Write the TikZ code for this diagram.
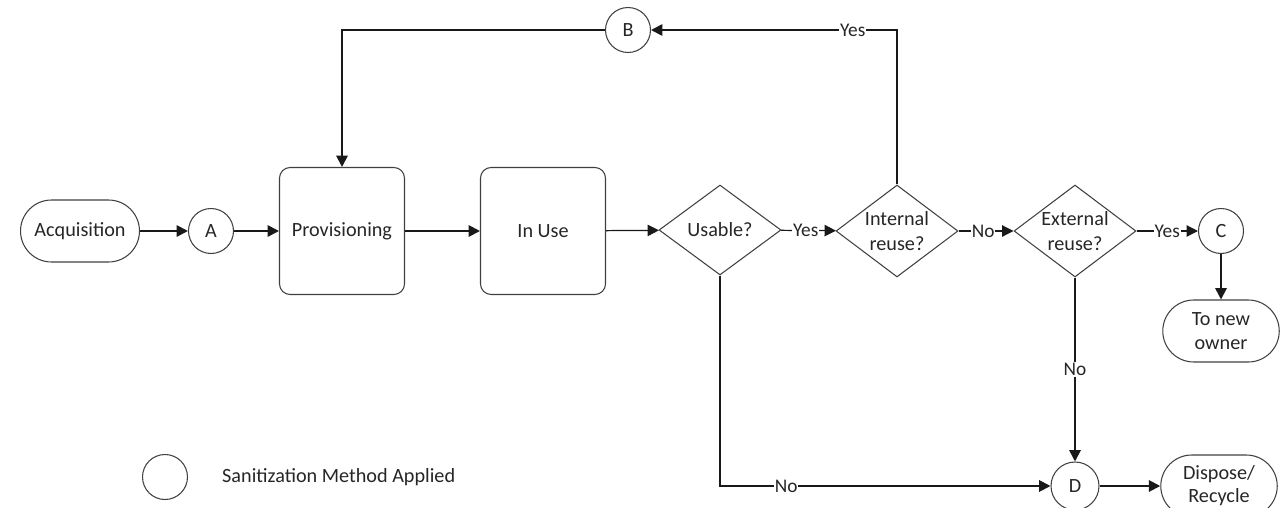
\documentclass[tikz,border=0pt]{standalone}
\usepackage{fontspec}
\setmainfont{Carlito}
\usetikzlibrary{arrows.meta,shapes.geometric,shapes.misc}

\tikzset{
  shp/.style={draw=black!75, line width=0.6pt, align=center, font=\fontsize{11.5}{14}\selectfont, text=black!85},
  term/.style={shp, rounded rectangle, minimum width=2.45cm, minimum height=1.24cm, inner sep=1pt},
  stage/.style={shp, rounded corners=6pt, minimum width=2.5cm, minimum height=2.54cm},
  query/.style={shp, diamond, minimum width=2.44cm, minimum height=1.84cm, inner sep=-6pt},
  pt/.style={shp, circle, minimum size=0.9cm, inner sep=0pt},
  flow/.style={-{Triangle[length=6.5pt,width=6.5pt]}, line width=1.1pt, black!90},
  thinflow/.style={flow, line width=0.7pt},
  lbl/.style={fill=white, inner sep=0.5pt, font=\fontsize{11}{13}\selectfont, text=black!85}
}

\begin{document}
\begin{tikzpicture}[x=0.02cm, y=-0.02cm]
  \useasboundingbox (0,0) rectangle (1281,507);

  % main line
  \node[term] (acq) at (80,231) {Acquisition};
  \node[pt] (ptA) at (211,231) {A};
  \node[stage] (prov) at (342,231) {Provisioning};
  \node[stage] (inuse) at (543,231) {In Use};
  \node[query, minimum height=1.8cm] (usable) at (720,230) {Usable?};
  \node[query] (intreuse) at (897,231) {Internal\\reuse?};
  \node[query] (extreuse) at (1075,231) {External\\reuse?};
  \node[pt] (ptC) at (1221,231) {C};
  \node[term, minimum width=2.4cm] (newowner) at (1221,331) {To new\\owner};
  \node[pt] (ptB) at (628,30) {B};
  \node[pt, minimum size=0.96cm] (ptD) at (1075,486) {D};
  \node[term, minimum width=2.4cm, font=\fontsize{11.5}{13}\selectfont] (dispose) at (1219,486) {Dispose/\\Recycle};

  % legend
  \node[pt] (legcirc) at (165,477) {};
  \node[anchor=west, font=\fontsize{11.5}{14}\selectfont, text=black!85] (legtext) at (216,477) {Sanitization Method Applied};

  \draw[flow] (acq) -- (ptA);
  \draw[flow] (ptA) -- (prov);
  \draw[flow] (prov) -- (inuse);
  \draw[thinflow] (inuse) -- (usable);
  \draw[thinflow] (usable) -- node[lbl, pos=0.45] {Yes} (intreuse);
  \draw[thinflow] (intreuse) -- node[lbl, pos=0.45] {No} (extreuse);
  \draw[thinflow] (extreuse) -- node[lbl, pos=0.5] {Yes} (ptC);
  \draw[flow] (ptC) -- (newowner);
  \draw[flow] (intreuse.north) |- node[lbl, pos=0.59] {Yes} (ptB);
  \draw[flow] (ptB) -| (prov);
  \draw[flow] (usable.south) |- node[lbl, pos=0.6] {No} (ptD);
  \draw[flow] (extreuse.south) -- node[lbl, pos=0.5] {No} (ptD);
  \draw[flow] (ptD) -- (dispose);
\end{tikzpicture}
\end{document}
